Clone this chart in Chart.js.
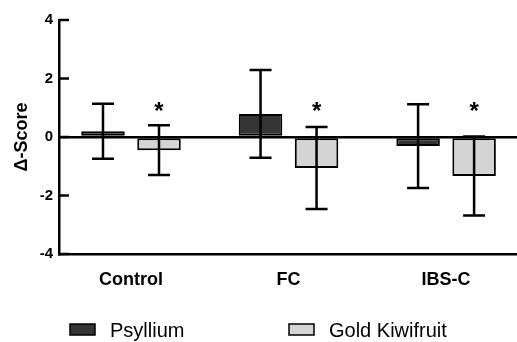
<!DOCTYPE html>
<html>
<head>
<meta charset="utf-8">
<script src="https://cdn.jsdelivr.net/npm/chart.js@4.4.1/dist/chart.umd.min.js"></script>
<style>
  body { margin: 0; background: #fff; }
  #wrap { width: 517px; height: 342px; position: relative; }
</style>
</head>
<body>
<div id="wrap"><canvas id="scoreChart"></canvas></div>
<script>
// groups on the x axis
let groups = ['Control', 'FC', 'IBS-C'];
// mean change in score
let psyllium = [0.2, 0.79, -0.31];
let kiwifruit = [-0.45, -1.06, -1.33];
// error bar half length
let psylliumErr = [0.94, 1.5, 1.43];
let kiwifruitErr = [0.85, 1.4, 1.35];
// significance star above kiwifruit bars
let kiwiStar = [true, true, true];
let yTicks = [-4, -2, 0, 2, 4];

const FONT = "'Liberation Sans', Arial, sans-serif";

// error bars + stars + inward y ticks + legend
const extras = {
    id: 'extras',
    afterDatasetsDraw(chart) {
        const c = chart.ctx;
        const y = chart.scales.y;
        const errs = [psylliumErr, kiwifruitErr];
        c.save();
        c.strokeStyle = '#000';
        c.lineWidth = 2.5;
        chart.data.datasets.forEach((ds, i) => {
            const meta = chart.getDatasetMeta(i);
            meta.data.forEach((bar, j) => {
                const v = ds.data[j].y;
                const top = y.getPixelForValue(v + errs[i][j]);
                const bot = y.getPixelForValue(v - errs[i][j]);
                c.beginPath();
                c.moveTo(bar.x, top); c.lineTo(bar.x, bot);
                c.moveTo(bar.x - 11, top); c.lineTo(bar.x + 11, top);
                c.moveTo(bar.x - 11, bot); c.lineTo(bar.x + 11, bot);
                c.stroke();
            });
        });
        // stars
        c.fillStyle = '#000';
        c.font = 'bold 24px ' + FONT;
        c.textAlign = 'center';
        c.textBaseline = 'alphabetic';
        chart.getDatasetMeta(1).data.forEach((bar, j) => {
            if (kiwiStar[j]) c.fillText('*', bar.x, y.getPixelForValue(1.1) + 14);
        });
        // tick marks pointing into the plot
        const left = chart.chartArea.left;
        c.beginPath();
        yTicks.forEach(t => {
            const py = y.getPixelForValue(t);
            c.moveTo(left, py); c.lineTo(left + 10, py);
        });
        c.stroke();
        c.restore();
    },
    afterDraw(chart) {
        const c = chart.ctx;
        const pos = [70, 289];
        c.save();
        c.font = '20px ' + FONT;
        c.textBaseline = 'middle';
        c.textAlign = 'left';
        chart.data.datasets.forEach((ds, i) => {
            c.fillStyle = ds.backgroundColor;
            c.fillRect(pos[i], 324, 25, 11);
            c.strokeStyle = '#000';
            c.lineWidth = 1.5;
            c.strokeRect(pos[i], 324, 25, 11);
            c.fillStyle = '#000';
            c.fillText(ds.label, pos[i] + 40, 331);
        });
        c.restore();
    }
};

new Chart(document.getElementById('scoreChart'), {
    type: 'bar',
    data: {
        datasets: [{
            label: 'Psyllium',
            data: psyllium.map((v, i) => ({ x: i, y: v })),
            backgroundColor: '#353535',
            borderColor: '#000',
            borderWidth: 2,
            borderSkipped: false
        }, {
            label: 'Gold Kiwifruit',
            data: kiwifruit.map((v, i) => ({ x: i, y: v })),
            backgroundColor: '#d4d4d4',
            borderColor: '#000',
            borderWidth: 2,
            borderSkipped: false
        }]
    },
    options: {
        responsive: true,
        maintainAspectRatio: false,
        animation: false,
        categoryPercentage: 0.711,
        barPercentage: 0.777,
        layout: { padding: { top: 20, right: 0, bottom: 0, left: 0 } },
        plugins: {
            legend: { display: false },
            tooltip: { enabled: false }
        },
        scales: {
            x: {
                type: 'linear',
                offset: false,
                min: -0.457,
                max: 2.45,
                afterBuildTicks: s => { s.ticks = groups.map((g, i) => ({ value: i })); },
                afterFit: s => { s.height = 88; },
                grid: { display: false, drawTicks: false, offset: false },
                border: { display: true, color: '#000', width: 2.5 },
                ticks: {
                    padding: 15,
                    color: '#000',
                    font: { family: FONT, size: 18, weight: 'bold' },
                    callback: v => groups[v]
                }
            },
            y: {
                min: -4,
                max: 4,
                afterFit: s => { s.width = 59; },
                afterBuildTicks: s => { s.ticks = yTicks.map(v => ({ value: v })); },
                grid: {
                    drawTicks: false,
                    color: c => c.tick && c.tick.value === 0 ? '#000' : 'rgba(0,0,0,0)',
                    lineWidth: 2.5
                },
                border: { display: true, color: '#000', width: 2.5 },
                ticks: {
                    padding: 6,
                    color: '#000',
                    font: { family: FONT, size: 15, weight: 'bold' }
                },
                title: {
                    display: true,
                    text: 'Δ-Score',
                    color: '#000',
                    padding: { top: 11, bottom: 0 },
                    font: { family: FONT, size: 18, weight: 'bold' }
                }
            }
        }
    },
    plugins: [extras]
});
</script>
</body>
</html>
